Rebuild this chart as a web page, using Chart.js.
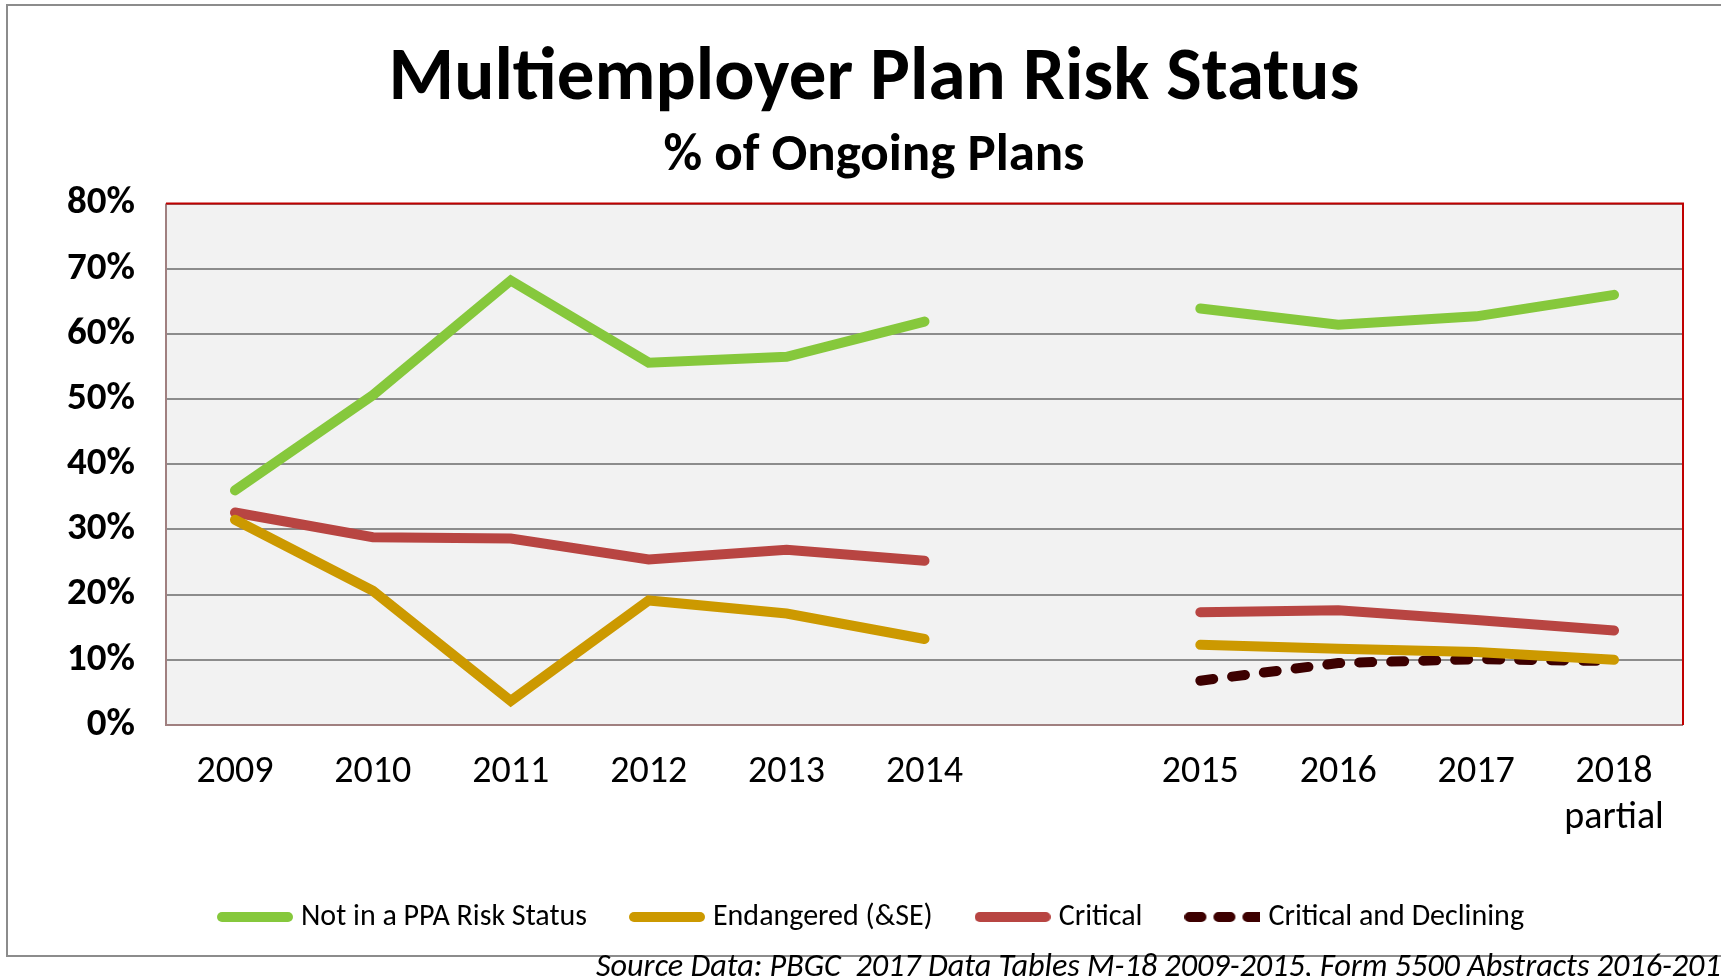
<!DOCTYPE html>
<html>
<head>
<meta charset="utf-8">
<script src="https://cdn.jsdelivr.net/npm/chart.js@4/dist/chart.umd.min.js"></script>
<style>
  html, body { margin: 0; padding: 0; width: 1721px; height: 976px; overflow: hidden; background: #fff; }
  #box { position: absolute; left: 6px; top: 4px; width: 1732px; height: 949px; border: 2px solid #8c8c8c; }
  #source { position: absolute; left: 596px; top: 950px; font: italic 32.2px Carlito, Lato, sans-serif; line-height: 30px; white-space: pre; color: #000; }
</style>
</head>
<body>
<div id="box"><canvas id="chart" width="1732" height="949"></canvas></div>
<div id="source">Source Data: PBGC  2017 Data Tables M-18 2009-2015, Form 5500 Abstracts 2016-2018</div>
<script>
const years = ["2009", "2010", "2011", "2012", "2013", "2014", "", "2015", "2016", "2017", ["2018", "partial"]];
const notInRisk = [36.0, 50.6, 68.2, 55.6, 56.5, 61.9, null, 63.9, 61.4, 62.7, 66.0];
const endangered = [31.5, 20.6, 3.7, 19.1, 17.1, 13.2, null, 12.3, 11.7, 11.2, 10.0];
const critical = [32.6, 28.8, 28.6, 25.4, 26.9, 25.2, null, 17.3, 17.6, 16.1, 14.5];
const critDeclining = [null, null, null, null, null, null, null, 6.8, 9.5, 10.1, 9.8];

const font = "Carlito, Lato, sans-serif";

const plotFrame = {
  id: "plotFrame",
  beforeDraw(chart) {
    const a = chart.chartArea, ctx = chart.ctx;
    ctx.save();
    ctx.fillStyle = "#f2f2f2";
    ctx.fillRect(a.left, a.top, a.right - a.left, a.bottom - a.top);
    ctx.restore();
  },
  afterDraw(chart) {
    const a = chart.chartArea, ctx = chart.ctx;
    ctx.save();
    ctx.lineWidth = 2;
    ctx.strokeStyle = "#a08080";
    ctx.beginPath();
    ctx.moveTo(a.left, a.top);
    ctx.lineTo(a.left, a.bottom);
    ctx.lineTo(a.right, a.bottom);
    ctx.stroke();
    ctx.strokeStyle = "#c00000";
    ctx.beginPath();
    ctx.moveTo(a.left, a.top);
    ctx.lineTo(a.right, a.top);
    ctx.lineTo(a.right, a.bottom);
    ctx.stroke();
    ctx.restore();
  }
};

// small legend swatch: a thick round-capped line, dashed if needed
function swatch(color, dash) {
  const c = document.createElement("canvas");
  c.width = 76;
  c.height = 12;
  const g = c.getContext("2d");
  g.strokeStyle = color;
  g.lineWidth = 10;
  g.lineCap = "round";
  g.setLineDash(dash ? [12, 17] : []);
  g.beginPath();
  g.moveTo(5, 6);
  g.lineTo(dash ? 76 : 71, 6);
  g.stroke();
  return c;
}

function line(label, data, color, dash) {
  return {
    label: label,
    data: data,
    borderColor: color,
    backgroundColor: color,
    borderWidth: 10,
    borderDash: dash || [],
    borderCapStyle: "round",
    borderJoinStyle: "miter",
    pointRadius: 0,
    tension: 0,
    spanGaps: false
  };
}

new Chart(document.getElementById("chart"), {
  type: "line",
  data: {
    labels: years,
    datasets: [
      line("Not in a PPA Risk Status", notInRisk, "#86c83c"),
      line("Endangered (&SE)", endangered, "#cc9900"),
      line("Critical", critical, "#b84542"),
      line("Critical and Declining", critDeclining, "#3d0000", [13, 19])
    ]
  },
  options: {
    responsive: false,
    animation: false,
    layout: { padding: { top: 0, left: 57, right: 57, bottom: 13 } },
    plugins: {
      title: {
        display: true,
        text: "Multiemployer Plan Risk Status",
        color: "#000",
        font: { family: font, size: 75, weight: "bold" },
        padding: { top: 29, bottom: 0 }
      },
      subtitle: {
        display: true,
        text: "% of Ongoing Plans",
        color: "#000",
        font: { family: font, size: 53, weight: "bold" },
        padding: { top: 0, bottom: 15 }
      },
      legend: {
        position: "bottom",
        labels: {
          color: "#000",
          font: { family: font, size: 30 },
          usePointStyle: true,
          pointStyleWidth: 62,
          boxHeight: 24,
          padding: 49,
          generateLabels(chart) {
            const items = Chart.defaults.plugins.legend.labels.generateLabels(chart);
            items.forEach(it => {
              const ds = chart.data.datasets[it.datasetIndex];
              it.pointStyle = swatch(ds.borderColor, ds.borderDash.length > 0);
            });
            return items;
          }
        }
      },
      tooltip: { enabled: false }
    },
    scales: {
      x: {
        offset: true,
        grid: { display: false },
        border: { display: false },
        ticks: {
          color: "#000",
          font: { family: font, size: 38, lineHeight: 1.2 },
          padding: 17,
          maxRotation: 0,
          autoSkip: false
        },
        afterFit(scale) { scale.height = 128; }
      },
      y: {
        min: 0,
        max: 80,
        grid: { color: "#8c8c8c", lineWidth: 2, drawTicks: false },
        border: { display: false },
        ticks: {
          stepSize: 10,
          color: "#000",
          padding: 31,
          font: { family: font, size: 39, weight: "bold" },
          callback: v => v + "%"
        },
        afterFit(scale) { scale.width = 101; }
      }
    }
  },
  plugins: [plotFrame]
});
</script>
</body>
</html>
